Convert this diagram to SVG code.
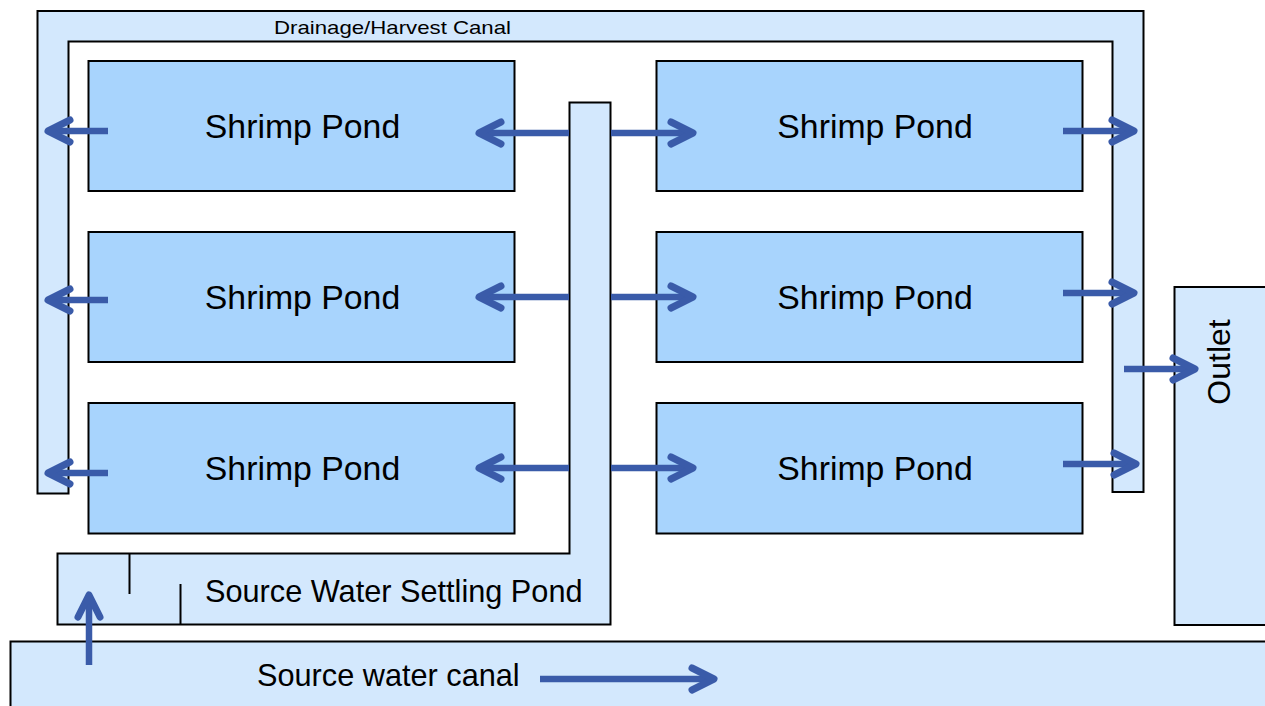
<svg xmlns="http://www.w3.org/2000/svg" width="1265" height="706" viewBox="0 0 1265 706">
<style>
.light{fill:#d3e8fd;stroke:#000;stroke-width:2}
.pond{fill:#a8d4fd;stroke:#000;stroke-width:2}
.ln{fill:none;stroke:#000;stroke-width:2}
.t{font-family:"Liberation Sans",Arial,sans-serif;fill:#000}
.arr{fill:none;stroke:#3a5ba9;stroke-width:6.5;marker-end:url(#ah)}
</style>
<defs>
<marker id="ah" markerUnits="userSpaceOnUse" viewBox="-30 -16 36 32" markerWidth="36" markerHeight="32" refX="0" refY="0" orient="auto" overflow="visible">
<path d="M-22,-11 L0,0 L-22,11" fill="none" stroke="#3a5ba9" stroke-width="7" stroke-linecap="round" stroke-linejoin="round"/>
</marker>
</defs>
<rect width="1265" height="706" fill="#fff"/>
<g id="source-canal">
<rect class="light" x="10.5" y="641.5" width="1270" height="80"/>
<text class="t" x="257" y="686" font-size="30.7">Source water canal</text>
</g>
<g id="outlet">
<rect class="light" x="1174.5" y="287" width="110" height="338"/>
<text class="t" font-size="32" text-anchor="middle" transform="translate(1230,362) rotate(-90)">Outlet</text>
</g>
<g id="drainage-canal">
<path class="light" d="M37.5,493.5 V11 H1143.5 V492 H1112.5 V41.5 H68.5 V493.5 Z"/>
<text class="t" x="274" y="33.5" font-size="19" textLength="237" lengthAdjust="spacingAndGlyphs">Drainage/Harvest Canal</text>
</g>
<g id="settling-pond">
<path class="light" d="M57.5,624.5 V553.5 H569.5 V102.5 H610.5 V624.5 Z"/>
<line class="ln" x1="129.5" y1="553.5" x2="129.5" y2="594"/>
<line class="ln" x1="180.5" y1="584" x2="180.5" y2="624.5"/>
<text class="t" x="205" y="602" font-size="30.7">Source Water Settling Pond</text>
</g>
<g id="pond-l1"><rect class="pond" x="88.5" y="61" width="426" height="130"/><text class="t" x="302.5" y="138" font-size="33.8" text-anchor="middle">Shrimp Pond</text></g>
<g id="pond-l2"><rect class="pond" x="88.5" y="232" width="426" height="130"/><text class="t" x="302.5" y="309" font-size="33.8" text-anchor="middle">Shrimp Pond</text></g>
<g id="pond-l3"><rect class="pond" x="88.5" y="403" width="426" height="130.5"/><text class="t" x="302.5" y="480" font-size="33.8" text-anchor="middle">Shrimp Pond</text></g>
<g id="pond-r1"><rect class="pond" x="656.5" y="61" width="426" height="130"/><text class="t" x="875" y="138" font-size="33.8" text-anchor="middle">Shrimp Pond</text></g>
<g id="pond-r2"><rect class="pond" x="656.5" y="232" width="426" height="130"/><text class="t" x="875" y="309" font-size="33.8" text-anchor="middle">Shrimp Pond</text></g>
<g id="pond-r3"><rect class="pond" x="656.5" y="403" width="426" height="130.5"/><text class="t" x="875" y="480" font-size="33.8" text-anchor="middle">Shrimp Pond</text></g>
<g id="connectors">
<line class="arr" x1="108" y1="131" x2="48" y2="131"/>
<line class="arr" x1="108" y1="300" x2="48" y2="300"/>
<line class="arr" x1="108" y1="473" x2="48" y2="473"/>
<line class="arr" x1="569" y1="133" x2="479" y2="133"/>
<line class="arr" x1="569" y1="297" x2="479" y2="297"/>
<line class="arr" x1="569" y1="468" x2="479" y2="468"/>
<line class="arr" x1="611" y1="133" x2="693" y2="133"/>
<line class="arr" x1="611" y1="297" x2="693" y2="297"/>
<line class="arr" x1="611" y1="468" x2="693" y2="468"/>
<line class="arr" x1="1063" y1="131" x2="1134" y2="131"/>
<line class="arr" x1="1063" y1="293" x2="1134" y2="293"/>
<line class="arr" x1="1063" y1="464" x2="1136" y2="464"/>
<line class="arr" x1="1124" y1="369" x2="1195" y2="369"/>
<line class="arr" x1="89" y1="665" x2="89" y2="595"/>
<line class="arr" x1="540" y1="679" x2="714" y2="679"/>
</g>
</svg>
